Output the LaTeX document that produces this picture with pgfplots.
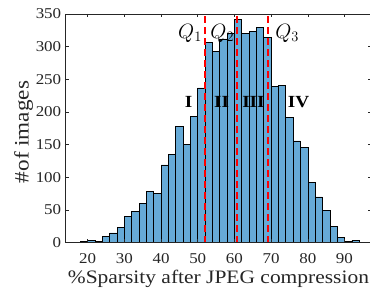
\documentclass[border=0pt]{standalone}
\usepackage{pgfplots}
\pgfplotsset{compat=1.18}
\usepackage{fontspec}
\setmainfont{Liberation Serif}[FakeStretch=1.13]
\definecolor{barblue}{rgb}{0.4,0.668,0.845}
\definecolor{axgray}{rgb}{0.15,0.15,0.15}
\begin{document}
\begin{tikzpicture}
\begin{axis}[
  scale only axis, width=305.5pt, height=228.7pt,
  xmin=14, xmax=97.3, ymin=0, ymax=350,
  xtick={20,30,...,90}, ytick={0,50,...,350},
  tick align=inside, major tick length=3.5pt,
  axis line style={axgray, line width=0.5pt},
  every tick/.style={axgray, line width=0.5pt},
  /pgf/number format/assume math mode=true,
  tick label style={font=\fontsize{15}{15}\selectfont, text=axgray},
  xticklabel style={anchor=base, yshift=-21.3pt, inner sep=0pt},
  yticklabel style={anchor=east, xshift=-4.3pt, inner sep=0pt},
  xlabel={\%Sparsity after JPEG compression},
  xlabel style={font=\fontsize{19}{19}\selectfont, at={(axis description cs:0.5,0)}, anchor=base, yshift=-41.3pt, inner sep=0pt, text=axgray},
  ylabel={\#of images},
  ylabel style={font=\fontsize{20.5}{20.5}\selectfont, at={(axis description cs:0,0.484)}, anchor=center, yshift=42pt, inner sep=0pt, text=axgray},
  axis on top,
]
\addplot[ybar interval, fill=barblue, draw=black, line width=0.5pt] coordinates {
(18,2) (20,4) (22,2) (24,10) (26,15) (28,23) (30,40) (32,48) (34,60) (36,79) (38,76) (40,119) (42,135) (44,178) (46,150) (48,193) (50,237) (52,306) (54,293) (56,312) (58,320) (60,342) (62,320) (64,323) (66,330) (68,314) (70,239) (72,241) (74,192) (76,156) (78,146) (80,92) (82,70) (84,49) (86,25) (88,8) (90,2) (92,4) (94,0)
};
\addplot[red, line width=2.2pt, dash pattern=on 7pt off 4pt] coordinates {(51.9,0) (51.9,350)};
\addplot[red, line width=2.2pt, dash pattern=on 7pt off 4pt] coordinates {(60.7,0) (60.7,350)};
\addplot[red, line width=2.2pt, dash pattern=on 7pt off 4pt] coordinates {(69.1,0) (69.1,350)};
\node[font=\fontsize{21.5}{21.5}\selectfont, anchor=base] at (axis cs:47.9,313) {$Q_1$};
\node[font=\fontsize{21.5}{21.5}\selectfont, anchor=base] at (axis cs:56.7,313) {$Q_2$};
\node[font=\fontsize{21.5}{21.5}\selectfont, anchor=base] at (axis cs:74.4,313) {$Q_3$};
\node[font=\bfseries\fontsize{17}{17}\selectfont] at (axis cs:47.5,215) {I};
\node[font=\bfseries\fontsize{17}{17}\selectfont] at (axis cs:56.5,215) {II};
\node[font=\bfseries\fontsize{17}{17}\selectfont] at (axis cs:65.2,215) {III};
\node[font=\bfseries\fontsize{17}{17}\selectfont] at (axis cs:77.5,215) {IV};
\end{axis}
\pgfresetboundingbox
\path[use as bounding box] (-65.7pt,-48.3pt) rectangle (304.3pt,242.7pt);
\end{tikzpicture}
\end{document}
